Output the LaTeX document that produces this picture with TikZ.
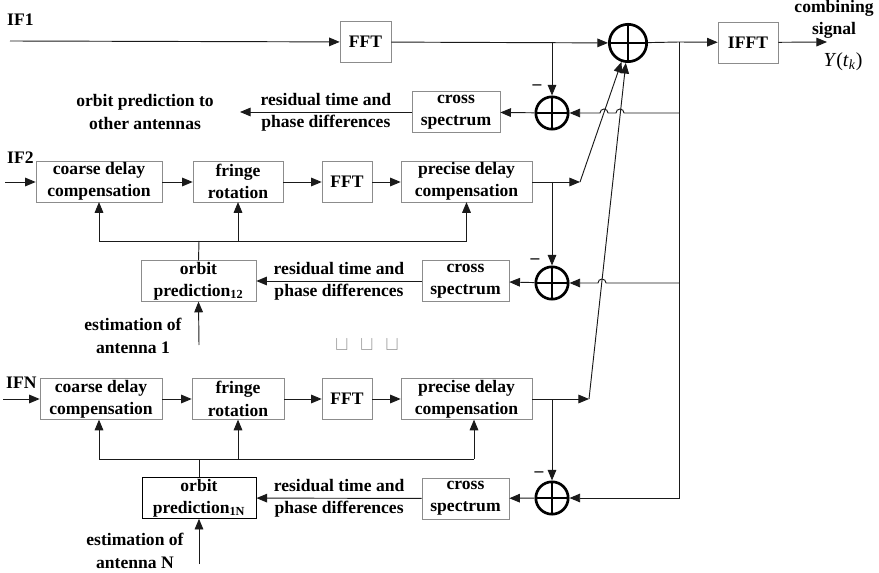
\documentclass[tikz,border=0pt]{standalone}
\usepackage{fontspec}
\setmainfont{Liberation Serif}
\usetikzlibrary{arrows.meta}
\definecolor{ink}{HTML}{1A1A1A}
\definecolor{frame}{HTML}{8C8C8C}
\definecolor{faint}{HTML}{9A9A9A}
\tikzset{
  box/.style={draw=frame,line width=.5pt,minimum height=1.22cm,inner sep=1pt,
    align=center,font=\bfseries\fontsize{15}{19}\selectfont},
  arrow/.style={-{Triangle[length=3.2mm,width=2.6mm]},line width=.8pt,draw=ink},
  wire/.style={line width=.8pt,draw=ink},
  note/.style={font=\bfseries\fontsize{15}{19}\selectfont,align=center,inner sep=0pt},
  summer/.style={circle,draw=black,line width=2.3pt,inner sep=0pt,
    path picture={\draw[line width=2.3pt]
      (path picture bounding box.north) -- (path picture bounding box.south)
      (path picture bounding box.west) -- (path picture bounding box.east);}},
  bigsum/.style={summer,minimum size=1.12cm},
  smallsum/.style={summer,minimum size=.97cm}
}

\begin{document}
\begin{tikzpicture}[x=0.03cm,y=-0.03cm]
\useasboundingbox (0,0) rectangle (879,573);

% channel 1
\node[note,anchor=west] (if1) at (7,20) {IF1};
\node[box,minimum width=1.53cm] (fft1) at (365.5,42) {FFT};
\node[bigsum] (sum) at (628,43) {};
\node[box,minimum width=1.8cm] (ifft) at (748,42.5) {IFFT};
\node[note] (comb) at (834,19) {combining\\signal};
\node[font=\fontsize{17}{20}\selectfont,inner sep=0pt] (yout) at (843,62)
  {\textit{Y}(\textit{t}\textsubscript{\textit{k}})};
\node[smallsum] (s1) at (552,113) {};
\node[box,minimum width=2.64cm] (cs1) at (456,112) {cross\\spectrum};
\node[note] (other) at (145,112) {orbit prediction to\\other antennas};

\coordinate (in1) at (10,41);
\coordinate (tap) at (679,42);
\coordinate (out) at (827,42);
\draw[arrow] (in1) -- (fft1);
\draw[arrow] (fft1) -- (sum);
\draw[wire] (sum) -- (tap);
\draw[arrow] (tap) -- (ifft);
\draw[arrow] (ifft) -- (out);
\draw[arrow] (s1 |- fft1) -- (s1.north);
\node[note] at (537,87) {--};
\draw[arrow] (tap |- s1) -- (624,113) arc[start angle=0,end angle=180,radius=.12cm]
  -- (608,113) arc[start angle=0,end angle=180,radius=.12cm] -- (s1.east);
\draw[arrow] (s1) -- (cs1);
\draw[arrow] (cs1) -- node[note] {residual time and\\phase differences} (other.east -| 240,0);

% channel 2
\node[note,anchor=west] (if2) at (7,158) {IF2};
\node[box,minimum width=3.78cm] (coarse2) at (99,181.5) {coarse delay\\compensation};
\node[box,minimum width=2.7cm] (fringe2) at (238,181.5) {fringe\\rotation};
\node[box,minimum width=1.5cm] (fft2) at (347,181.5) {FFT};
\node[box,minimum width=3.93cm] (prec2) at (466.5,181.5) {precise delay\\compensation};
\node[box,minimum width=3.45cm] (orbit12) at (198.5,281) {orbit\\prediction\textsubscript{12}};
\node[box,minimum width=2.61cm] (cs2) at (465.5,281) {cross\\spectrum};
\node[smallsum] (s2) at (552,283) {};
\node[note] (est1) at (133,336) {estimation of\\antenna 1};

\coordinate (in2) at (5,182);
\coordinate (k2) at (580,182);
\coordinate (fb2) at (199,241);
\coordinate (e1) at (199,345);
\draw[arrow] (in2) -- (coarse2.west |- in2);
\draw[arrow] (coarse2.east |- in2) -- (fringe2.west |- in2);
\draw[arrow] (fringe2.east |- in2) -- (fft2.west |- in2);
\draw[arrow] (fft2.east |- in2) -- (prec2.west |- in2);
\draw[arrow] (prec2.east |- in2) -- (k2);
\draw[arrow] (k2) -- (sum);
\draw[arrow] (s2 |- k2) -- (s2.north);
\node[note] at (535,261) {--};
\draw[arrow] (tap |- s2) -- (606,283) arc[start angle=0,end angle=180,radius=.12cm] -- (s2.east);
\draw[arrow] (s2) -- (cs2);
\draw[arrow] (cs2) -- node[note] {residual time and\\phase differences} (orbit12);
\draw[wire] (orbit12.north) -- (fb2);
\draw[wire] (coarse2.south |- fb2) -- (prec2.south |- fb2);
\draw[arrow] (coarse2.south |- fb2) -- (coarse2.south);
\draw[arrow] (fringe2.south |- fb2) -- (fringe2.south);
\draw[arrow] (prec2.south |- fb2) -- (prec2.south);
\draw[arrow] (e1) -- (orbit12.south);

\node[text=faint,inner sep=0pt,font=\fontsize{16}{18}\selectfont] (dots) at (367,345)
  {$\mathord{\sqcup}\hspace{10pt}\mathord{\sqcup}\hspace{10pt}\mathord{\sqcup}$};

% channel N
\node[note,anchor=west] (ifn) at (6,383) {IFN};
\node[box,minimum width=3.66cm] (coarseN) at (101,399) {coarse delay\\compensation};
\node[box,minimum width=2.76cm] (fringeN) at (238,399) {fringe\\rotation};
\node[box,minimum width=1.5cm] (fftN) at (347,399) {FFT};
\node[box,minimum width=3.93cm] (precN) at (466.5,399) {precise delay\\compensation};
\node[box,draw=black,line width=.8pt,minimum width=3.42cm] (orbit1N) at (199,498) {orbit\\prediction\textsubscript{1N}};
\node[box,minimum width=2.61cm] (csN) at (465.5,498.5) {cross\\spectrum};
\node[smallsum] (s3) at (552,498) {};
\node[note] (estN) at (135,551) {estimation of\\antenna N};

\coordinate (inN) at (3,399);
\coordinate (k3) at (589,399);
\coordinate (fbN) at (199,459);
\coordinate (cN) at (99,459);
\coordinate (pN) at (474,459);
\coordinate (eN) at (199,564);
\draw[arrow] (inN) -- (coarseN.west |- inN);
\draw[arrow] (coarseN.east |- inN) -- (fringeN.west |- inN);
\draw[arrow] (fringeN.east |- inN) -- (fftN.west |- inN);
\draw[arrow] (fftN.east |- inN) -- (precN.west |- inN);
\draw[arrow] (precN.east |- inN) -- (k3);
\draw[arrow] (k3) -- (sum);
\draw[arrow] (s3 |- k3) -- (s3.north);
\node[note] at (539,474) {--};
\draw[arrow] (tap) |- (s3.east);
\draw[arrow] (s3) -- (csN);
\draw[arrow] (csN) -- node[note] {residual time and\\phase differences} (orbit1N);
\draw[wire] (orbit1N.north) -- (fbN);
\draw[wire] (cN) -- (pN);
\draw[arrow] (cN) -- (cN |- coarseN.south);
\draw[arrow] (fringeN.south |- fbN) -- (fringeN.south);
\draw[arrow] (pN) -- (pN |- precN.south);
\draw[arrow] (eN) -- (orbit1N.south);
\end{tikzpicture}
\end{document}
